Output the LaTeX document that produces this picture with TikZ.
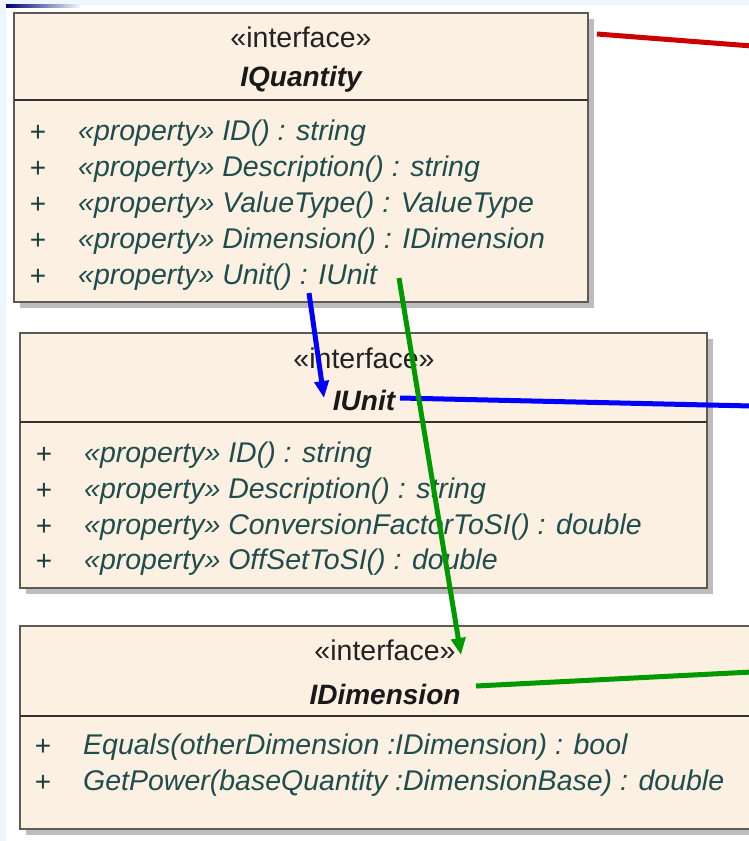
\documentclass[tikz,border=0pt]{standalone}
\usepackage{fontspec}
\setmainfont{Liberation Sans}
\usetikzlibrary{arrows.meta,shadows}

\definecolor{boxfill}{HTML}{FBF0E2}
\definecolor{boxline}{HTML}{5E5A55}
\definecolor{shadowgrey}{HTML}{BDBDBD}
\definecolor{membertext}{HTML}{1F4D4D}
\definecolor{headtext}{HTML}{222222}
\definecolor{pagetint}{HTML}{EEF6FE}
\definecolor{linkred}{HTML}{CC0000}
\definecolor{linkblue}{HTML}{0000FF}
\definecolor{linkgreen}{HTML}{009A00}

\begin{document}
\begin{tikzpicture}[x=1pt,y=-1pt,
  classbox/.style={fill=boxfill,draw=boxline,line width=2.2pt,anchor=north west,
    inner sep=0,outer sep=0,
    drop shadow={shadow xshift=6pt,shadow yshift=-6pt,fill=shadowgrey,opacity=1}},
  divider/.style={draw=black!80,line width=2.4pt},
  stereo/.style={font=\fontsize{28.5}{28.5}\selectfont,text=headtext,inner sep=0},
  cname/.style={font=\fontsize{28}{28}\selectfont\bfseries\itshape,text=black!90,inner sep=0},
  member/.style={font=\fontsize{28.5}{28.5}\selectfont\itshape,text=membertext,anchor=west,inner sep=0},
  vis/.style={font=\fontsize{28}{28}\selectfont,text=membertext!80!black,inner sep=0},
  link/.style={line width=5pt},
  tip/.style={-{Triangle[length=17pt,width=14pt]}},
]
\useasboundingbox (0,0) rectangle (749,841);
\clip (0,0) rectangle (749,841);
\fill[white] (0,0) rectangle (749,841);
\fill[pagetint] (0,0) rectangle (749,5);
\fill[pagetint] (0,0) rectangle (6,841);
\shade[left color=blue!45!black,right color=pagetint] (6,4) rectangle (80,7);

% ---- IQuantity ----
\node[classbox,minimum width=574pt,minimum height=289pt] (quantity) at (14,13) {};
\draw[divider] (14,100) -- (588,100);
\node[stereo] (q-st) at (301,37) {«interface»};
\node[cname] (q-name) at (301,79) {IQuantity};
\foreach \y/\t [count=\i] in {133/{«property» ID() : string},
    169/{«property» Description() : string},
    205/{«property» ValueType() : ValueType},
    241/{«property» Dimension() : IDimension},
    277/{«property» Unit() : IUnit}} {
  \node[vis] (q-v\i) at (38,\y) {+};
  \node[member] (q-m\i) at (78,\y) {\t};
}

% ---- IUnit ----
\node[classbox,minimum width=687pt,minimum height=255pt] (unit) at (20,333) {};
\draw[divider] (20,422) -- (707,422);
\node[stereo] (u-st) at (364,358) {«interface»};
\node[cname] (u-name) at (364,400) {IUnit};
\foreach \y/\t [count=\i] in {455/{«property» ID() : string},
    491/{«property» Description() : string},
    527/{«property» ConversionFactorToSI() : double},
    562/{«property» OffSetToSI() : double}} {
  \node[vis] (u-v\i) at (44,\y) {+};
  \node[member] (u-m\i) at (84,\y) {\t};
}

% ---- IDimension ----
\node[classbox,minimum width=732pt,minimum height=203pt] (dimension) at (20,626) {};
\draw[divider] (20,716) -- (752,716);
\node[stereo] (d-st) at (385,650) {«interface»};
\node[cname] (d-name) at (385,694) {IDimension};
\foreach \y/\t [count=\i] in {747/{Equals(otherDimension :IDimension) : bool},
    783/{GetPower(baseQuantity :DimensionBase) : double}} {
  \node[vis] (d-v\i) at (43,\y) {+};
  \node[member] (d-m\i) at (83,\y) {\t};
}

% ---- connectors ----
\coordinate (redA) at (597,34);
\coordinate (redB) at (752,46);
\coordinate (unitFrom) at (309,293);
\coordinate (unitTo) at (324,398);
\coordinate (dimFrom) at (399,278);
\coordinate (dimTo) at (461,655);
\coordinate (blueA) at (400,398);
\coordinate (blueB) at (752,406);
\coordinate (greenA) at (476,686);
\coordinate (greenB) at (752,672);

\draw[link,linkred] (redA) -- (redB);
\draw[link,linkblue,tip] (unitFrom) -- (unitTo);
\draw[link,linkblue] (blueA) -- (blueB);
\draw[link,linkgreen,tip] (dimFrom) -- (dimTo);
\draw[link,linkgreen] (greenA) -- (greenB);
\end{tikzpicture}
\end{document}
